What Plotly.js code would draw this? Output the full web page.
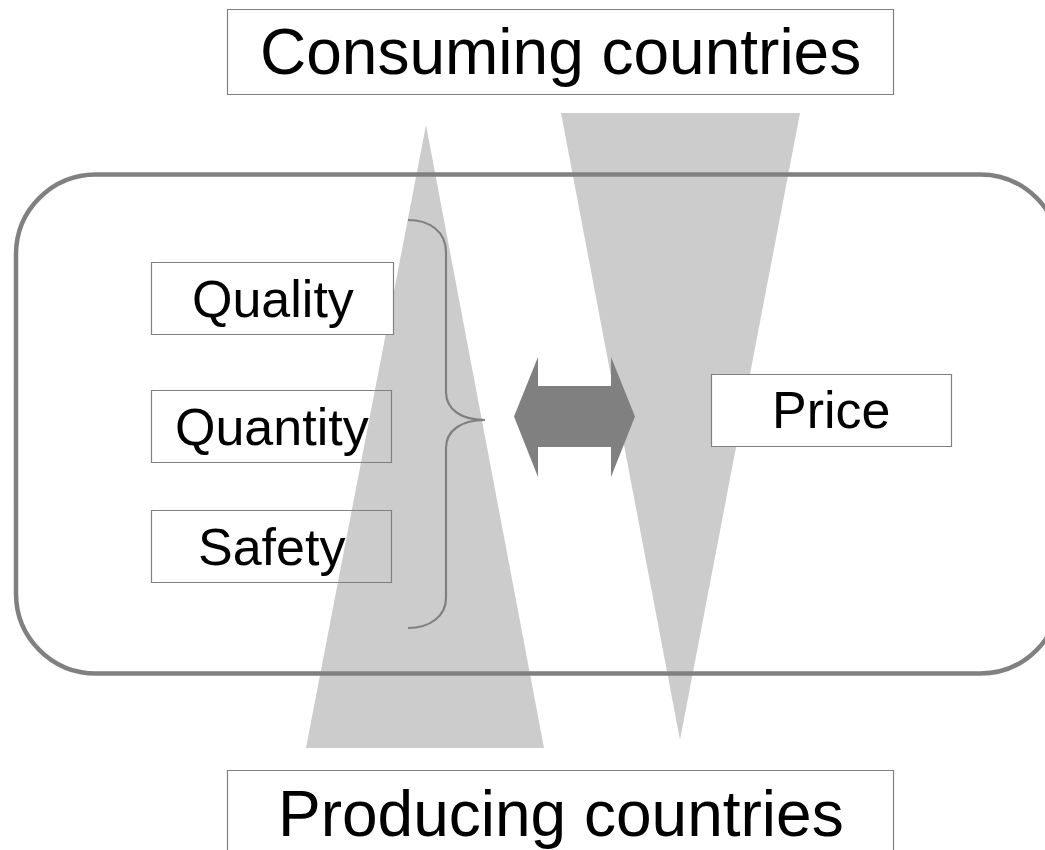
<!DOCTYPE html>
<html>
<head>
<meta charset="utf-8">
<script src="https://cdn.plot.ly/plotly-3.0.1.min.js"></script>
<style>
html, body { margin: 0; padding: 0; background: #ffffff; }
#chart { width: 1045px; height: 850px; }
</style>
</head>
<body>
<div id="chart"></div>
<script>
// Diagram content (labels)
var topLabel = ['Consuming countries'];
var bottomLabel = ['Producing countries'];
var factorLabels = ['Quality', 'Quantity', 'Safety'];
var priceLabel = ['Price'];

var GRAY = '#808080';
var LIGHT = '#cccccc';
var FONT = 'Liberation Sans, Arial, Helvetica, sans-serif';

function rectPath(x0, y0, x1, y1) {
  return 'M' + x0 + ',' + y0 + ' L' + x1 + ',' + y0 + ' L' + x1 + ',' + y1 + ' L' + x0 + ',' + y1 + ' Z';
}
function roundRectPath(x0, y0, x1, y1, r) {
  var k = 0.5523 * r;
  return 'M' + (x0 + r) + ',' + y0 +
    ' L' + (x1 - r) + ',' + y0 +
    ' C' + (x1 - r + k) + ',' + y0 + ' ' + x1 + ',' + (y0 + r - k) + ' ' + x1 + ',' + (y0 + r) +
    ' L' + x1 + ',' + (y1 - r) +
    ' C' + x1 + ',' + (y1 - r + k) + ' ' + (x1 - r + k) + ',' + y1 + ' ' + (x1 - r) + ',' + y1 +
    ' L' + (x0 + r) + ',' + y1 +
    ' C' + (x0 + r - k) + ',' + y1 + ' ' + x0 + ',' + (y1 - r + k) + ' ' + x0 + ',' + (y1 - r) +
    ' L' + x0 + ',' + (y0 + r) +
    ' C' + x0 + ',' + (y0 + r - k) + ' ' + (x0 + r - k) + ',' + y0 + ' ' + (x0 + r) + ',' + y0 + ' Z';
}

var shapes = [];
// Upward triangle (producers -> consumers)
shapes.push({type: 'path', xref: 'x', yref: 'y', path: 'M426,125 L544,748 L306,748 Z',
  fillcolor: LIGHT, line: {width: 0}});
// Downward triangle
shapes.push({type: 'path', xref: 'x', yref: 'y', path: 'M561,113 L800,113 L680,740 Z',
  fillcolor: LIGHT, line: {width: 0}});
// Rounded frame
shapes.push({type: 'path', xref: 'x', yref: 'y', path: roundRectPath(16, 174.5, 1060, 673.5, 80),
  fillcolor: 'rgba(0,0,0,0)', line: {color: GRAY, width: 4.5}});
// Top / bottom boxes
shapes.push({type: 'path', xref: 'x', yref: 'y', path: rectPath(227.5, 9.5, 893.5, 94.5),
  fillcolor: 'rgba(0,0,0,0)', line: {color: GRAY, width: 1.2}});
shapes.push({type: 'path', xref: 'x', yref: 'y', path: rectPath(227.5, 770.5, 893.5, 870),
  fillcolor: 'rgba(0,0,0,0)', line: {color: GRAY, width: 1.2}});
// Factor boxes
var factorBoxes = [[151.5, 262.5, 393.5, 334.5, '#ffffff'],
                   [151.5, 390.5, 391.5, 462.5, 'rgba(0,0,0,0)'],
                   [151.5, 510.5, 391.5, 582.5, 'rgba(0,0,0,0)']];
factorBoxes.forEach(function (b) {
  shapes.push({type: 'path', xref: 'x', yref: 'y', path: rectPath(b[0], b[1], b[2], b[3]),
    fillcolor: b[4], line: {color: GRAY, width: 1.2}});
});
// Price box
shapes.push({type: 'path', xref: 'x', yref: 'y', path: rectPath(711.5, 374.5, 951.5, 446.5),
  fillcolor: '#ffffff', line: {color: GRAY, width: 1.2}});
// Brace
shapes.push({type: 'path', xref: 'x', yref: 'y',
  path: 'M408,220 C430,220 446,232 446,252 L446,392 C446,410 462,420 485,420 C462,420 446,430 446,448 L446,598 C446,616 430,628 408,628',
  fillcolor: 'rgba(0,0,0,0)', line: {color: GRAY, width: 2.2}});
// Double arrow
shapes.push({type: 'path', xref: 'x', yref: 'y',
  path: 'M514,416.5 L538,357 L538,386 L611,386 L611,357 L635,416.5 L611,477 L611,447 L538,447 L538,477 Z',
  fillcolor: GRAY, line: {width: 0}});

var annotations = [];
annotations.push({x: 560, y: 52, xref: 'x', yref: 'y', text: topLabel[0], showarrow: false,
  xanchor: 'center', yanchor: 'middle', font: {family: FONT, size: 64, color: '#000000'}});
annotations.push({x: 561, y: 814, xref: 'x', yref: 'y', text: bottomLabel[0], showarrow: false,
  xanchor: 'center', yanchor: 'middle', font: {family: FONT, size: 64, color: '#000000'}});
factorLabels.forEach(function (t, i) {
  var b = factorBoxes[i];
  annotations.push({x: (b[0] + b[2]) / 2, y: (b[1] + b[3]) / 2, xref: 'x', yref: 'y', text: t,
    showarrow: false, xanchor: 'center', yanchor: 'middle',
    font: {family: FONT, size: 52, color: '#000000'}});
});
annotations.push({x: 831, y: 410, xref: 'x', yref: 'y', text: priceLabel[0], showarrow: false,
  xanchor: 'center', yanchor: 'middle', font: {family: FONT, size: 52, color: '#000000'}});

var layout = {
  width: 1045, height: 850,
  margin: {l: 0, r: 0, t: 0, b: 0, pad: 0},
  paper_bgcolor: '#ffffff', plot_bgcolor: '#ffffff',
  showlegend: false,
  xaxis: {range: [0, 1045], visible: false, fixedrange: true},
  yaxis: {range: [850, 0], visible: false, fixedrange: true},
  shapes: shapes,
  annotations: annotations
};

Plotly.newPlot('chart', [{x: [], y: [], type: 'scatter', hoverinfo: 'skip'}], layout,
  {displayModeBar: false, staticPlot: true});
</script>
</body>
</html>
